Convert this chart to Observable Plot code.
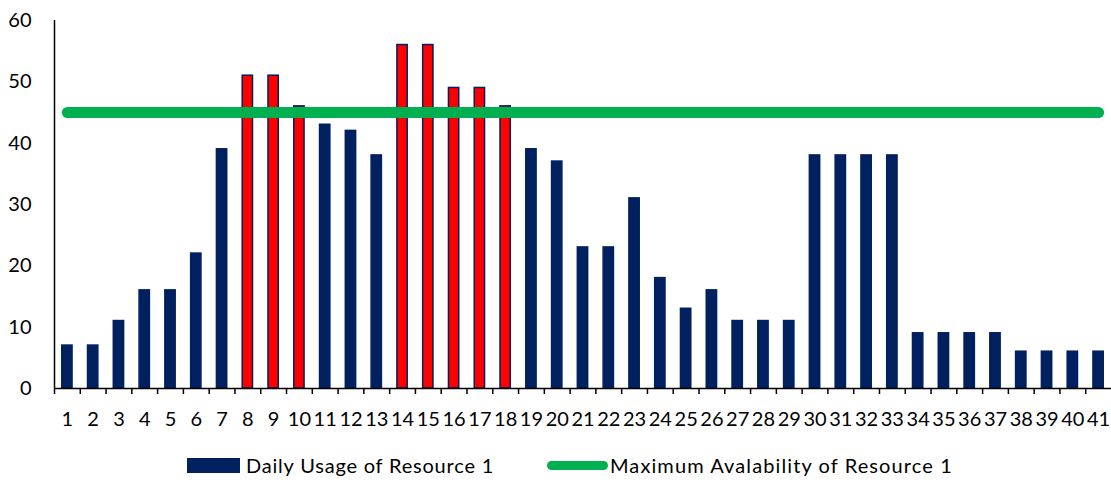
<!DOCTYPE html>
<html>
<head>
<meta charset="utf-8">
<script src="https://cdn.jsdelivr.net/npm/d3@7"></script>
<script src="https://cdn.jsdelivr.net/npm/@observablehq/plot@0.6"></script>
<style>
  html, body { margin: 0; padding: 0; background: #fff; }
  body { font-family: Lato, "Noto Sans", sans-serif; color: #000; width: 1111px; height: 484px; overflow: hidden; }
  #legend { position: relative; height: 44px; font-size: 20px; }
  .item { position: absolute; top: 12px; display: flex; align-items: center; height: 26px; white-space: nowrap; }
  .swatch-bar { width: 53px; height: 15px; margin-right: 6px; flex: none; }
  .swatch-line { width: 61px; height: 9px; border-radius: 5px; margin-right: 2px; flex: none; }
</style>
</head>
<body>
<div id="chart"></div>
<div id="legend"></div>
<script>
// Days of the schedule and the daily usage of resource 1
const days = [1,2,3,4,5,6,7,8,9,10,11,12,13,14,15,16,17,18,19,20,21,22,23,24,25,26,27,28,29,30,31,32,33,34,35,36,37,38,39,40,41];
const usage = [7,7,11,16,16,22,39,51,51,46,43,42,38,56,56,49,49,46,39,37,23,23,31,18,13,16,11,11,11,38,38,38,38,9,9,9,9,6,6,6,6];
const maxAvailability = 45;
const yTicks = [0,10,20,30,40,50,60];
const seriesNames = ["Daily Usage of Resource 1", "Maximum Avalability of Resource 1"];

const navy = "#002060";
const red = "#ff0000";
const green = "#00b050";

const usageRows = days.map((d, i) => ({day: d, value: usage[i]}));
const limitRows = days.map(d => ({day: d, value: maxAvailability}));

const width = 1111, height = 440;
const marginLeft = 54, marginRight = 0;
const step = (width - marginLeft - marginRight) / days.length;

const chart = Plot.plot({
  width, height,
  marginTop: 20, marginBottom: 52, marginLeft, marginRight,
  style: {fontFamily: "Lato, 'Noto Sans', sans-serif", fontSize: "20px", color: "#000", background: "#fff"},
  x: {type: "band", domain: days, paddingInner: 0.6, paddingOuter: 0.3, label: null},
  y: {domain: [0, 60], label: null},
  marks: [
    // usage bars, red where usage exceeds availability
    Plot.barY(usageRows, {
      x: "day", y: "value",
      fill: d => d.value > maxAvailability ? red : navy,
      stroke: navy, strokeWidth: 1.5
    }),
    // axis lines and category boundary ticks
    Plot.ruleY([0], {stroke: "#000", strokeWidth: 1.5}),
    Plot.ruleX([days[0]], {y1: 0, y2: 60, dx: -step / 2, stroke: "#000", strokeWidth: 1.5}),
    Plot.axisX({ticks: days, tickSize: 6, tickFormat: () => "", dx: -step / 2, stroke: "#000", strokeWidth: 1.5}),
    Plot.axisX({ticks: days, tickSize: 0, tickPadding: 23, fill: "#000"}),
    Plot.axisY({ticks: yTicks, tickSize: 0, tickPadding: 23, fill: "#000"}),
    // maximum availability
    Plot.lineY(limitRows, {x: "day", y: "value", stroke: green, strokeWidth: 11, strokeLinecap: "round"})
  ]
});
document.getElementById("chart").append(chart);

// Legend below the chart
const legend = document.getElementById("legend");
legend.innerHTML = `
  <div class="item" style="left:187px"><div class="swatch-bar" style="background:${navy}"></div><span style="letter-spacing:0.8px">${seriesNames[0]}</span></div>
  <div class="item" style="left:547px"><div class="swatch-line" style="background:${green}"></div><span style="letter-spacing:1.1px">${seriesNames[1]}</span></div>
`;
</script>
</body>
</html>
